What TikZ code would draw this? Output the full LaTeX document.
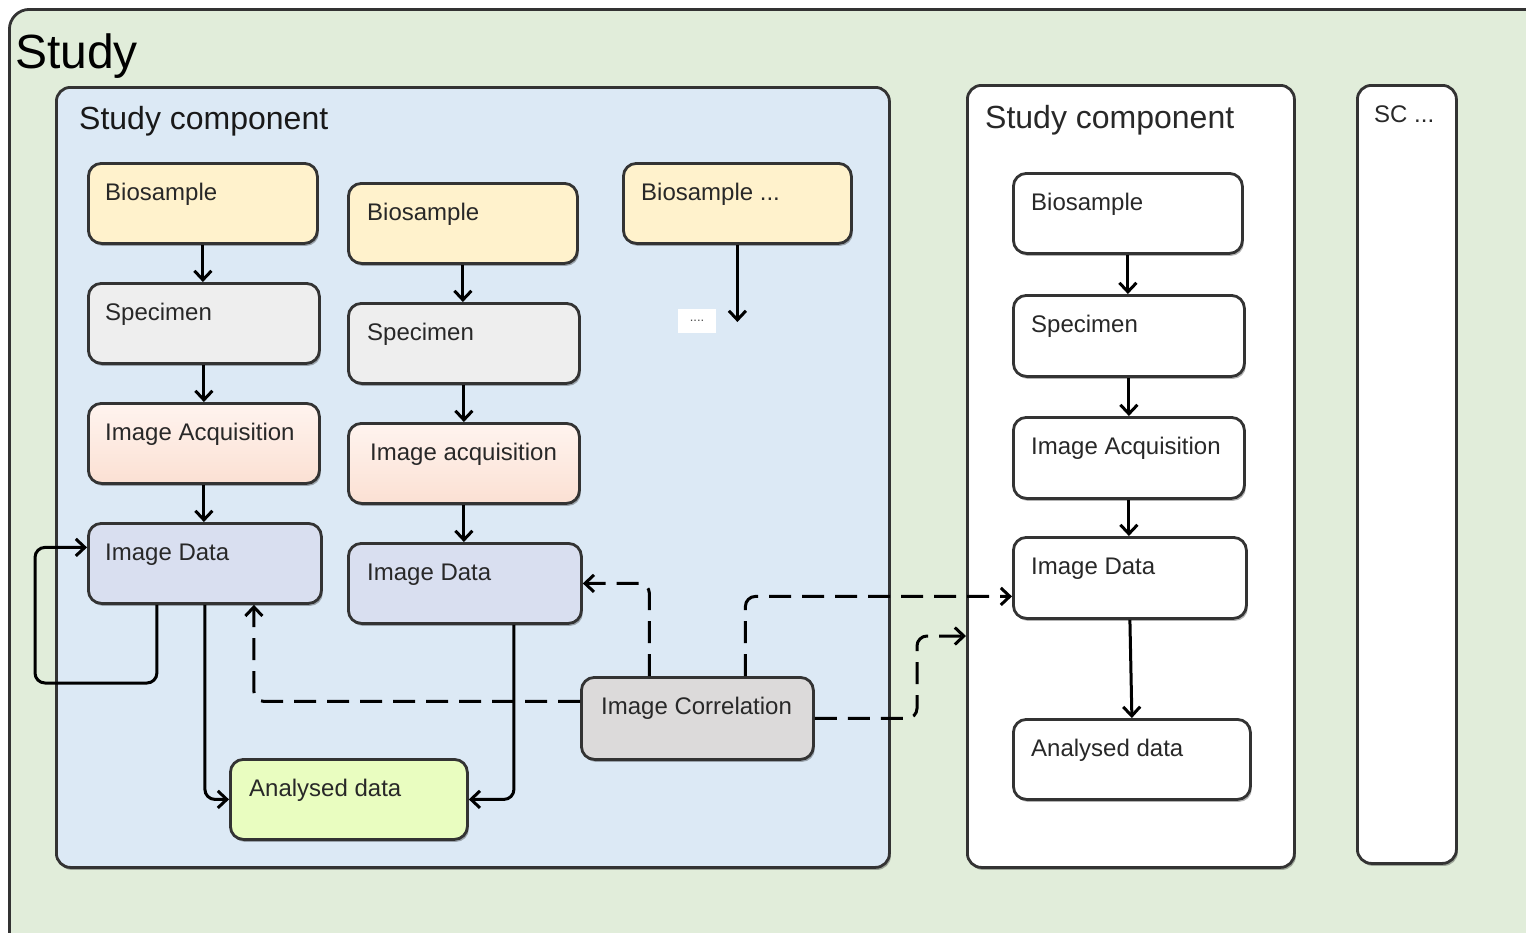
\documentclass[tikz,border=0pt]{standalone}
\usepackage{fontspec}
\setmainfont{Liberation Sans}
\usetikzlibrary{arrows.meta,calc,shadows}
\definecolor{studyg}{RGB}{225,237,218}
\definecolor{scblue}{RGB}{220,233,245}
\definecolor{bioc}{RGB}{255,242,204}
\definecolor{specc}{RGB}{238,238,238}
\definecolor{iatop}{RGB}{255,244,239}
\definecolor{iabot}{RGB}{251,224,211}
\definecolor{idc}{RGB}{217,223,240}
\definecolor{adc}{RGB}{233,253,192}
\definecolor{icc}{RGB}{220,218,218}
\definecolor{bordc}{RGB}{51,51,51}
\definecolor{txtc}{RGB}{40,40,40}
\newcommand{\mkbox}[8]{%
  \node[box,#2,minimum width=#5pt,minimum height=#6pt] (#1) at (#3,#4) {};
  \node[lbl] (#1t) at ($(#1.north west)+(#8,38)$) {#7};}
\begin{document}
\begin{tikzpicture}[x=1pt,y=-1pt,
  shd/.style={drop shadow={shadow xshift=1.5pt,shadow yshift=-2.5pt,opacity=0.3,fill=black}},
  box/.style={draw=bordc,line width=2.8pt,rounded corners=13pt,anchor=north west,inner sep=0pt,shd},
  container/.style={draw=bordc,line width=2.8pt,rounded corners=14pt,anchor=north west,inner sep=0pt,shd},
  lbl/.style={anchor=base west,inner sep=0pt,text=txtc,font=\fontsize{24}{28}\selectfont},
  conn/.style={line width=3pt,draw=black,-{Straight Barb[length=9pt,width=17pt]},rounded corners=10pt},
  dconn/.style={conn,dash pattern=on 22pt off 11pt},
  bio/.style={fill=bioc},
  spec/.style={fill=specc},
  iacq/.style={top color=iatop,bottom color=iabot},
  idat/.style={fill=idc},
  adat/.style={fill=adc},
  icor/.style={fill=icc},
  wht/.style={fill=white}
]
\useasboundingbox (0,0) rectangle (1526,932);
\fill[white] (0,0) rectangle (1526,932);
\clip (0,0) rectangle (1526,932);

% containers
\node[container,fill=studyg,rounded corners=20pt,minimum width=1545pt,minimum height=945pt] (study) at (8,8) {};
\node[anchor=base west,inner sep=0pt,text=black,font=\fontsize{48}{52}\selectfont] (studyt) at (15,68) {Study};

\node[container,fill=scblue,minimum width=833pt,minimum height=780pt] (sc1) at (55,86) {};
\node[anchor=base west,inner sep=0pt,text=black!90,font=\fontsize{32}{36}\selectfont] (sc1t) at (79,129) {Study component};

\node[container,fill=white,minimum width=327pt,minimum height=782pt] (sc2) at (966,84) {};
\node[anchor=base west,inner sep=0pt,text=txtc,font=\fontsize{32}{36}\selectfont] (sc2t) at (985,128) {Study component};

\node[container,fill=white,minimum width=99pt,minimum height=778pt] (sc3) at (1356,84) {};
\node[lbl] (sc3t) at (1374,122) {SC ...};

% column 1
\mkbox{b1}{bio}{87}{162}{229}{80}{Biosample}{18}
\mkbox{s1}{spec}{87}{282}{231}{80}{Specimen}{18}
\mkbox{ia1}{iacq}{87}{402}{231}{80}{Image Acquisition}{18}
\mkbox{id1}{idat}{87}{522}{233}{80}{Image Data}{18}
% column 2
\mkbox{b2}{bio}{347}{182}{229}{80}{Biosample}{20}
\mkbox{s2}{spec}{347}{302}{231}{80}{Specimen}{20}
\mkbox{ia2}{iacq}{347}{422}{231}{80}{Image acquisition}{23}
\mkbox{id2}{idat}{347}{542}{233}{80}{Image Data}{20}
% column 3
\mkbox{b3}{bio}{622}{162}{228}{80}{Biosample ...}{19}
\node[fill=white,inner sep=0pt,minimum width=38pt,minimum height=24pt,text=black!70,font=\fontsize{13}{15}\selectfont] (dots) at (697,321) {....};
\coordinate (b3end) at (736,322);
% analysed + correlation
\mkbox{ad}{adat}{229}{758}{237}{80}{Analysed data}{20}
\mkbox{ic}{icor}{580}{676}{232}{82}{Image Correlation}{21}
% second study component
\mkbox{sb}{wht}{1012}{172}{229}{80}{Biosample}{19}
\mkbox{ss}{wht}{1012}{294}{231}{81}{Specimen}{19}
\mkbox{sia}{wht}{1012}{416}{231}{81}{Image Acquisition}{19}
\mkbox{sid}{wht}{1012}{536}{233}{81}{Image Data}{19}
\mkbox{sad}{wht}{1012}{718}{237}{80}{Analysed data}{19}

% solid connectors
\draw[conn] (b1.south) -- (b1.south |- s1.north);
\draw[conn] (s1.south) -- (s1.south |- ia1.north);
\draw[conn] (ia1.south) -- (ia1.south |- id1.north);
\draw[conn] (b2.south) -- (b2.south |- s2.north);
\draw[conn] (s2.south) -- (s2.south |- ia2.north);
\draw[conn] (ia2.south) -- (ia2.south |- id2.north);
\draw[conn] (b3.south) -- (b3.south |- b3end);
\draw[conn] (sb.south) -- (sb.south |- ss.north);
\draw[conn] (ss.south) -- (ss.south |- sia.north);
\draw[conn] (sia.south) -- (sia.south |- sid.north);
\draw[conn] (sid.south) -- (sad.north);

\draw[conn] (id1.south) |- (ad.west);
\draw[conn] ([xshift=49pt]id2.south) |- (ad.east);
\coordinate (loopc) at (35,683);
\draw[conn] ([xshift=-48pt]id1.south) |- (loopc) |- ([yshift=16pt]id1.west);

% dashed connectors
\draw[dconn] ([yshift=17pt]ic.west) -| ([xshift=49pt]id1.south);
\draw[dconn] ([xshift=-48pt]ic.north) |- (id2.east);
\draw[dconn] ([xshift=48pt]ic.north) |- ([yshift=-18.5pt]sid.west);
\coordinate (c4) at (917,636);
\draw[dconn] (ic.east) -| (c4) -- (sc2.west |- c4);
\end{tikzpicture}
\end{document}
